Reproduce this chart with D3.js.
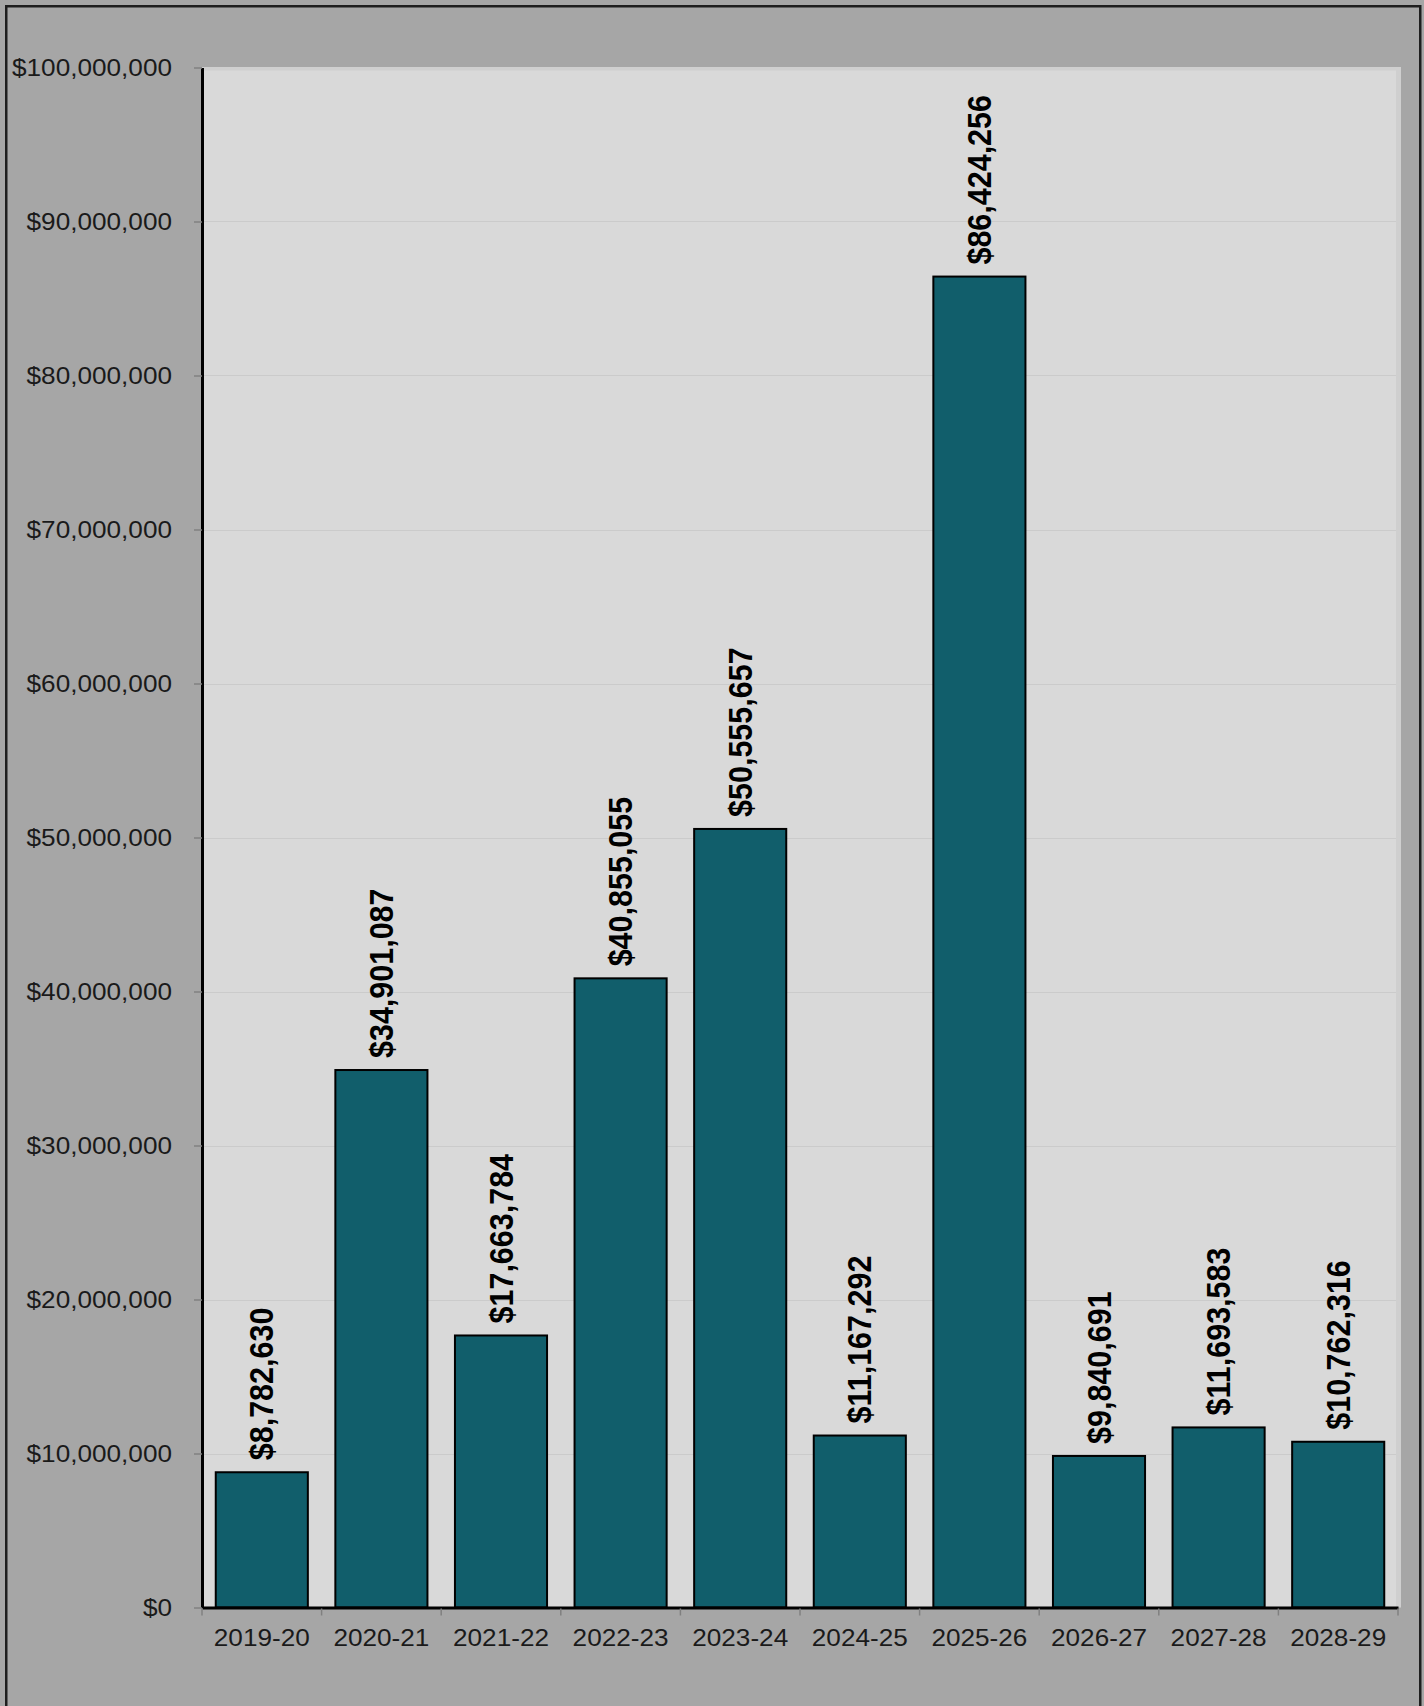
<!DOCTYPE html>
<html>
<head>
<meta charset="utf-8">
<script src="https://cdn.jsdelivr.net/npm/d3@7"></script>
<style>
  html, body { margin: 0; padding: 0; background: #a6a6a6; }
  svg { display: block; }
</style>
</head>
<body>
<svg id="chart" width="1424" height="1706"></svg>
<script>
// Annual amounts by fiscal year
const years = ["2019-20", "2020-21", "2021-22", "2022-23", "2023-24",
               "2024-25", "2025-26", "2026-27", "2027-28", "2028-29"];
const amounts = [8782630, 34901087, 17663784, 40855055, 50555657,
                 11167292, 86424256, 9840691, 11693583, 10762316];
const yTicks = [0, 10000000, 20000000, 30000000, 40000000, 50000000,
                60000000, 70000000, 80000000, 90000000, 100000000];

const W = 1424, H = 1706;
const plot = { left: 202, right: 1398, top: 67.5, bottom: 1607.5 };
const FONT = "'Liberation Sans', Arial, sans-serif";
const STRETCH = 1.09;   // glyphs are drawn slightly wide

const svg = d3.select("#chart");
const money = v => "$" + d3.format(",")(v);

// Frame of the whole figure
svg.append("rect")
  .attr("x", 0).attr("y", 0).attr("width", W).attr("height", H)
  .attr("fill", "#a6a6a6");
svg.append("rect")
  .attr("x", 6.25).attr("y", 6.25).attr("width", 1414).attr("height", 1800)
  .attr("fill", "none").attr("stroke", "#1e1e1e").attr("stroke-width", 2.5);

const x = d3.scaleBand()
  .domain(years)
  .range([plot.left, plot.right])
  .paddingInner(0.23)
  .paddingOuter(0.115);

const y = d3.scaleLinear()
  .domain([0, 100000000])
  .range([plot.bottom, plot.top]);

// Plot area with a soft bevelled edge
svg.append("rect")
  .attr("x", plot.left).attr("y", plot.top - 0.5)
  .attr("width", plot.right - plot.left + 3).attr("height", plot.bottom - plot.top + 0.5)
  .attr("fill", "#cfcfcf");
svg.append("rect")
  .attr("x", plot.left).attr("y", plot.top + 3)
  .attr("width", plot.right - plot.left - 2).attr("height", plot.bottom - plot.top - 3)
  .attr("fill", "#d9d9d9");

// Horizontal gridlines
svg.append("g")
  .selectAll("line")
  .data(yTicks.filter(v => v > 0 && v < 100000000))
  .join("line")
  .attr("x1", plot.left).attr("x2", plot.right - 2)
  .attr("y1", d => Math.round(y(d)) + 0.5).attr("y2", d => Math.round(y(d)) + 0.5)
  .attr("stroke", "#cbcbcb").attr("stroke-width", 1);

// Bars
svg.append("g")
  .selectAll("rect")
  .data(years)
  .join("rect")
  .attr("x", d => x(d))
  .attr("y", (d, i) => y(amounts[i]))
  .attr("width", x.bandwidth())
  .attr("height", (d, i) => y(0) - y(amounts[i]))
  .attr("fill", "#115e6b")
  .attr("stroke", "#000")
  .attr("stroke-width", 2);

// Value labels, rotated above each bar
svg.append("g")
  .selectAll("text")
  .data(years)
  .join("text")
  .attr("transform", (d, i) =>
    `translate(${x(d) + x.bandwidth() / 2},${y(amounts[i]) - 12}) rotate(-90) scale(1,${STRETCH})`)
  .attr("dy", "0.35em")
  .attr("text-anchor", "start")
  .attr("font-family", FONT)
  .attr("font-weight", "bold")
  .attr("font-size", 30.5)
  .attr("fill", "#000")
  .text((d, i) => money(amounts[i]));

// Y axis
const yAxis = svg.append("g")
  .attr("transform", `translate(${plot.left},0)`)
  .call(d3.axisLeft(y).tickValues(yTicks).tickFormat(money).tickSize(8).tickSizeOuter(0));
yAxis.select(".domain").attr("stroke", "#000").attr("stroke-width", 3);
yAxis.selectAll(".tick line").attr("stroke", "#808080").attr("stroke-width", 1.5);
yAxis.selectAll(".tick text")
  .attr("x", -30 / STRETCH)
  .attr("transform", `scale(${STRETCH},1)`)
  .attr("font-family", FONT)
  .attr("font-size", 24)
  .attr("fill", "#1a1a1a");

// X axis
const xAxis = svg.append("g")
  .attr("transform", `translate(0,${plot.bottom})`)
  .call(d3.axisBottom(x).tickSize(0).tickSizeOuter(0));
xAxis.select(".domain").attr("stroke", "#000").attr("stroke-width", 3);
xAxis.selectAll(".tick text")
  .attr("x", 0)
  .attr("y", 21)
  .attr("dy", "0.71em")
  .attr("transform", `scale(${STRETCH},1)`)
  .attr("font-family", FONT)
  .attr("font-size", 24)
  .attr("fill", "#1a1a1a");

// Category boundary ticks
const xTickPositions = d3.range(years.length + 1).map(i => plot.left + i * x.step());
xAxis.append("g")
  .selectAll("line")
  .data(xTickPositions)
  .join("line")
  .attr("x1", d => d).attr("x2", d => d)
  .attr("y1", 1).attr("y2", 8)
  .attr("stroke", "#808080").attr("stroke-width", 1.5);
</script>
</body>
</html>
